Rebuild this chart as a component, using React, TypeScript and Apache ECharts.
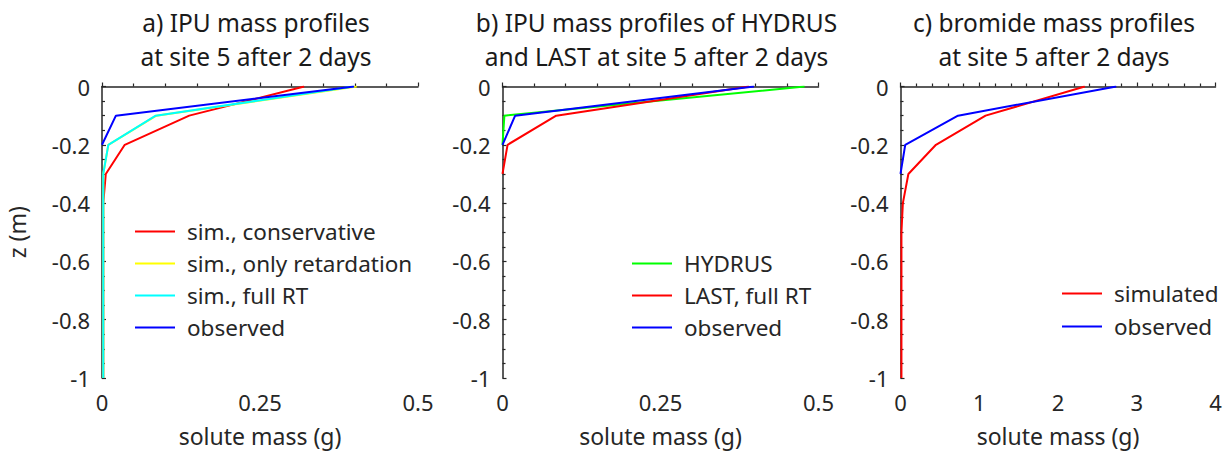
import React, { useEffect, useRef } from "react";
import * as echarts from "echarts";

// depths (m)
const depths = [0, -0.1, -0.2, -0.3, -0.4, -0.5, -0.6, -0.7, -0.8, -0.9, -1];

// panel a: IPU mass (g)
const aConservative = [0.32, 0.138, 0.036, 0.006, 0.002, 0.002, 0.002, 0.002, 0.002, 0.002, 0.002];
const aRetardation = [0.403, 0.086, 0.01, 0.002, 0.002, 0.002, 0.002, 0.002, 0.002, 0.002, 0.002];
const aFullRT = [0.398, 0.085, 0.01, 0.002, 0.002, 0.002, 0.002, 0.002, 0.002, 0.002, 0.002];
const aObserved = [0.399, 0.022, 0];

// panel b: IPU mass (g)
const bHydrus = [0.478, 0.003, 0];
const bLast = [0.39, 0.085, 0.008, 0];
const bObserved = [0.398, 0.02, 0];

// panel c: bromide mass (g)
const cSimulated = [2.34, 1.08, 0.45, 0.1, 0.03, 0.012, 0.012, 0.012, 0.012, 0.012, 0.012];
const cObserved = [2.74, 0.73, 0.06, 0];

const titles = [
  "a) IPU mass profiles\nat site 5 after 2 days",
  "b) IPU mass profiles of HYDRUS\nand LAST at site 5 after 2 days",
  "c) bromide mass profiles\nat site 5 after 2 days",
];

const legendA = ["sim., conservative", "sim., only retardation", "sim., full RT", "observed"];
const legendB = ["HYDRUS", "LAST, full RT", "observed"];
const legendC = ["simulated", "observed"];

const FONT = "Noto Sans";
const AX = "#262626";

function pairs(vals: number[]) {
  return vals.map((v, i) => [v, depths[i]]);
}

export default function App() {
  const ref = useRef<HTMLDivElement>(null);
  useEffect(() => {
    if (!ref.current) return;
    const chart = echarts.init(ref.current, null, { renderer: "svg" });
    const grids = [
      { left: 102, width: 316, top: 86.5, height: 291.5 },
      { left: 502.5, width: 316, top: 86.5, height: 291.5 },
      { left: 900.5, width: 315, top: 86.5, height: 291.5 },
    ];
    const xRanges = [
      { max: 0.5, interval: 0.25 },
      { max: 0.5, interval: 0.25 },
      { max: 4, interval: 1 },
    ];
    const xAxis = grids.map((_, i) => ({
      type: "value",
      gridIndex: i,
      min: 0,
      max: xRanges[i].max,
      interval: xRanges[i].interval,
      name: "solute mass (g)",
      nameLocation: "middle",
      nameGap: 46,
      nameTextStyle: { fontFamily: FONT, fontSize: 23, color: AX },
      axisLine: { show: true, lineStyle: { color: AX, width: 1.5 } },
      axisTick: { show: true, inside: true, length: 4, lineStyle: { color: AX, width: 1.2 } },
      minorTick: { show: true, splitNumber: 5, length: 3, lineStyle: { color: AX, width: 1.2 } },
      axisLabel: { fontFamily: FONT, fontSize: 22, color: AX, margin: 13 },
      splitLine: { show: false },
      minorSplitLine: { show: false },
    }));
    const yAxis = grids.map((_, i) => ({
      type: "value",
      gridIndex: i,
      min: -1,
      max: 0,
      interval: 0.2,
      name: i === 0 ? "z (m)" : "",
      nameLocation: "middle",
      nameGap: 74,
      nameRotate: 90,
      nameTextStyle: { fontFamily: FONT, fontSize: 23, color: AX },
      axisLine: { show: true, lineStyle: { color: AX, width: 1.5 } },
      axisTick: { show: true, inside: true, length: 4, lineStyle: { color: AX, width: 1.2 } },
      minorTick: { show: true, splitNumber: 4, length: 3, lineStyle: { color: AX, width: 1.2 } },
      axisLabel: { fontFamily: FONT, fontSize: 22, color: AX, margin: 12 },
      splitLine: { show: false },
      minorSplitLine: { show: false },
    }));
    const mk = (name: string, vals: number[], color: string, idx: number) => ({
      type: "line",
      name,
      xAxisIndex: idx,
      yAxisIndex: idx,
      data: pairs(vals),
      symbol: "none",
      lineStyle: { color, width: 2 },
      itemStyle: { color },
      silent: true,
    });
    const series = [
      mk("sim., conservative", aConservative, "#ff0000", 0),
      mk("sim., only retardation", aRetardation, "#ffff00", 0),
      mk("sim., full RT", aFullRT, "#00ffff", 0),
      mk("observed", aObserved, "#0000ff", 0),
      mk("HYDRUS", bHydrus, "#00ff00", 1),
      mk("LAST, full RT", bLast, "#ff0000", 1),
      mk("observed", bObserved, "#0000ff", 1),
      mk("simulated", cSimulated, "#ff0000", 2),
      mk("observed", cObserved, "#0000ff", 2),
    ];
    const legendBase = {
      orient: "vertical",
      icon: "rect",
      itemWidth: 40,
      itemHeight: 2,
      itemGap: 9,
      padding: 0,
      selectedMode: false,
      textStyle: { fontFamily: FONT, fontSize: 22.5, color: AX, lineHeight: 22, padding: [0, 0, 0, 7] },
    };
    const legend = [
      { ...legendBase, left: 135, top: 220, data: legendA },
      { ...legendBase, left: 632, top: 252, data: legendB },
      { ...legendBase, left: 1062, top: 282, itemGap: 10, data: legendC },
    ];
    const title = titles.map((t, i) => ({
      text: t,
      left: grids[i].left + grids[i].width / 2 - 4,
      top: 5,
      padding: 0,
      textAlign: "center",
      textStyle: { fontFamily: FONT, fontSize: 24.5, fontWeight: "normal", color: "#1a1a1a", lineHeight: 34 },
    }));
    chart.setOption({
      animation: false,
      backgroundColor: "#ffffff",
      title,
      legend,
      grid: grids,
      xAxis,
      yAxis,
      series,
    });
    return () => chart.dispose();
  }, []);
  return <div ref={ref} style={{ width: 1230, height: 452, position: "absolute", left: 0, top: 0 }} />;
}
